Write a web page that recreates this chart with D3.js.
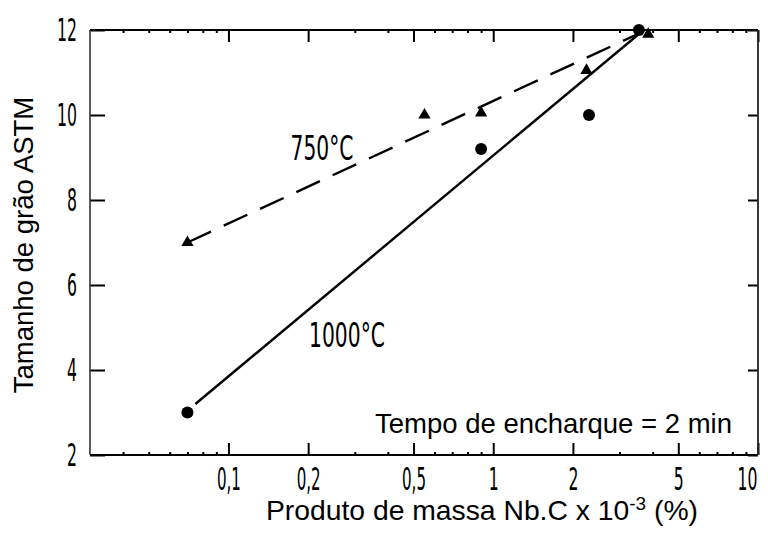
<!DOCTYPE html>
<html>
<head>
<meta charset="utf-8">
<script src="https://cdn.jsdelivr.net/npm/d3@7"></script>
<style>
  html, body { margin: 0; padding: 0; background: #fff; }
  svg { display: block; }
</style>
</head>
<body>
<svg id="chart" width="768" height="542"></svg>
<script>
// ---- data ----
const xTickValues = [0.1, 0.2, 0.5, 1, 2, 5, 10];
const xTickLabels = ["0,1", "0,2", "0,5", "1", "2", "5", "10"];
const xMinorTicks = [0.04, 0.05, 0.06, 0.07, 0.08, 0.09, 0.3, 0.4, 0.6, 0.7, 0.8, 0.9, 3, 4, 6, 7, 8, 9];
const yTickValues = [2, 4, 6, 8, 10, 12];
const yTickLabels = ["2", "4", "6", "8", "10", "12"];

// 750 °C (triangles)
const x750 = [0.07, 0.55, 0.9, 2.25, 3.85];
const y750 = [7.0, 10.0, 10.05, 11.05, 11.9];
// 1000 °C (circles)
const x1000 = [0.07, 0.9, 2.3, 3.55];
const y1000 = [3.0, 9.2, 10.0, 12.0];

// fitted lines (end points)
const fit750X = [0.07, 3.5];
const fit750Y = [7.0, 11.9];
const fit1000X = [0.075, 3.7];
const fit1000Y = [3.2, 12.0];

const label750 = "750°C";
const label1000 = "1000°C";
const noteText = "Tempo de encharque = 2 min";
const yTitle = "Tamanho de grão ASTM";

// ---- drawing ----
const svg = d3.select("#chart");
const pL = 90, pR = 758, pT = 30, pB = 455;

const x = d3.scaleLog().domain([0.03, 10]).range([pL, pR]);
const y = d3.scaleLinear().domain([2, 12]).range([pB, pT]);

const digitFont = "'DejaVu Sans', sans-serif";
const textFont = "'Liberation Sans', Arial, sans-serif";
const charW = c => (c === "," ? 4 : 10);
const labelLen = s => s.split("").reduce((a, c) => a + charW(c), 0);

// squeeze a text horizontally (condensed lettering) around its own x
function condense(sel, target) {
  sel.each(function () {
    const t = d3.select(this);
    const nat = this.getComputedTextLength();
    const want = typeof target === "function" ? target(t.text()) : target;
    const sx = want / nat;
    const x0 = +t.attr("x") || 0;
    t.attr("x", x0 / sx).attr("transform", `scale(${sx},1)`);
  });
}

// bottom axis
const gB = svg.append("g").attr("transform", `translate(0,${pB})`)
  .call(d3.axisBottom(x).tickValues(xTickValues)
    .tickFormat((d, i) => xTickLabels[i])
    .tickSizeInner(-12).tickSizeOuter(0).tickPadding(12));
// top axis
svg.append("g").attr("transform", `translate(0,${pT})`)
  .call(d3.axisTop(x).tickValues(xTickValues).tickFormat("")
    .tickSizeInner(-12).tickSizeOuter(0));
// minor ticks
svg.append("g").attr("transform", `translate(0,${pB})`)
  .call(d3.axisBottom(x).tickValues(xMinorTicks).tickFormat("").tickSizeInner(-3).tickSizeOuter(0));
svg.append("g").attr("transform", `translate(0,${pT})`)
  .call(d3.axisTop(x).tickValues(xMinorTicks).tickFormat("").tickSizeInner(-3).tickSizeOuter(0));
// left axis
const gL = svg.append("g").attr("transform", `translate(${pL},0)`)
  .call(d3.axisLeft(y).tickValues(yTickValues)
    .tickFormat((d, i) => yTickLabels[i])
    .tickSizeInner(-15).tickSizeOuter(0).tickPadding(13));
// right axis
svg.append("g").attr("transform", `translate(${pR},0)`)
  .call(d3.axisRight(y).tickValues(yTickValues).tickFormat("")
    .tickSizeInner(-10).tickSizeOuter(0));

svg.selectAll(".domain").remove();
svg.selectAll(".tick line").attr("stroke", "#000").attr("stroke-width", 2);

[gB, gL].forEach(g => {
  g.selectAll(".tick text")
    .attr("font-family", digitFont)
    .attr("font-size", 32)
    .attr("fill", "#000");
});
// keep the last x label inside the picture
gB.selectAll(".tick text").filter(d => d === 10).attr("text-anchor", "end").attr("x", -1);
condense(gB.selectAll(".tick text"), labelLen);
condense(gL.selectAll(".tick text"), labelLen);

// frame
svg.append("line").attr("x1", pL).attr("x2", pR).attr("y1", pT).attr("y2", pT)
  .attr("stroke", "#000").attr("stroke-width", 2.2);
svg.append("line").attr("x1", pL).attr("x2", pR).attr("y1", pB).attr("y2", pB)
  .attr("stroke", "#000").attr("stroke-width", 2.2);
svg.append("line").attr("x1", pL).attr("x2", pL).attr("y1", pT).attr("y2", pB)
  .attr("stroke", "#333").attr("stroke-width", 1.6);
svg.append("line").attr("x1", pR).attr("x2", pR).attr("y1", pT).attr("y2", pB)
  .attr("stroke", "#222").attr("stroke-width", 1.8);

// lines
const line = d3.line().x(d => x(d[0])).y(d => y(d[1]));
svg.append("path")
  .datum(fit750X.map((v, i) => [v, fit750Y[i]]))
  .attr("d", line).attr("fill", "none").attr("stroke", "#000")
  .attr("stroke-width", 2.4).attr("stroke-dasharray", "26,14");
svg.append("path")
  .datum(fit1000X.map((v, i) => [v, fit1000Y[i]]))
  .attr("d", line).attr("fill", "none").attr("stroke", "#000")
  .attr("stroke-width", 2.4);

// markers
svg.append("g").selectAll("path")
  .data(x750.map((v, i) => [v, y750[i]]))
  .join("path")
  .attr("transform", d => `translate(${x(d[0])},${y(d[1])})`)
  .attr("d", d3.symbol().type(d3.symbolTriangle).size(65))
  .attr("fill", "#000");
svg.append("g").selectAll("circle")
  .data(x1000.map((v, i) => [v, y1000[i]]))
  .join("circle")
  .attr("cx", d => x(d[0])).attr("cy", d => y(d[1])).attr("r", 6)
  .attr("fill", "#000");

// series labels
const t750 = svg.append("g").attr("transform", "translate(322,160)")
  .append("text").attr("text-anchor", "middle")
  .attr("font-family", digitFont).attr("font-size", 34).attr("fill", "#000")
  .text(label750);
condense(t750, 63);
const t1000 = svg.append("g").attr("transform", "translate(347,347)")
  .append("text").attr("text-anchor", "middle")
  .attr("font-family", digitFont).attr("font-size", 34).attr("fill", "#000")
  .text(label1000);
condense(t1000, 76);

// note
svg.append("text").attr("x", 732).attr("y", 433)
  .attr("text-anchor", "end")
  .attr("font-family", textFont).attr("font-size", 27.5).attr("fill", "#000")
  .text(noteText);

// x axis title with superscript
const xt = svg.append("text").attr("x", 482).attr("y", 520)
  .attr("text-anchor", "middle")
  .attr("font-family", textFont).attr("font-size", 28.3).attr("fill", "#000");
xt.append("tspan").text("Produto de massa Nb.C x 10");
xt.append("tspan").attr("font-size", 19).attr("dy", -10).text("-3");
xt.append("tspan").attr("dy", 10).text(" (%)");

// y axis title
svg.append("text")
  .attr("transform", "translate(33,245) rotate(-90)")
  .attr("text-anchor", "middle")
  .attr("font-family", textFont).attr("font-size", 27.5).attr("fill", "#000")
  .text(yTitle);
</script>
</body>
</html>
